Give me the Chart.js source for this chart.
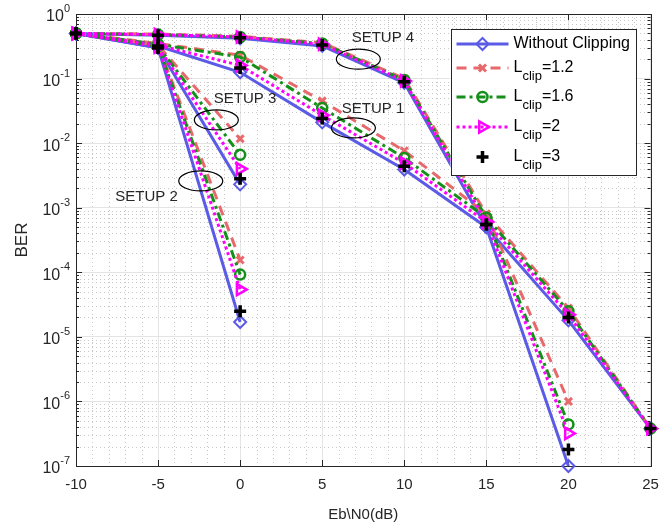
<!DOCTYPE html>
<html><head><meta charset="utf-8">
<script src="https://cdn.jsdelivr.net/npm/chart.js@4/dist/chart.umd.min.js"></script>
<style>html,body{margin:0;padding:0;background:#fff}#wrap{width:660px;height:528px;position:relative}</style>
</head><body><div id="wrap"><canvas id="c" width="660" height="528"></canvas></div>
<script>
// ---------- data ----------
const seriesNames = ['Without Clipping', 'Lclip=1.2', 'Lclip=1.6', 'Lclip=2', 'Lclip=3'];
const legendMain = ['Without Clipping', 'L', 'L', 'L', 'L'];
const legendSub  = ['', 'clip', 'clip', 'clip', 'clip'];
const legendTail = ['', '=1.2', '=1.6', '=2', '=3'];

const xTickValues = [-10, -5, 0, 5, 10, 15, 20, 25];
const yTickValues = [1, 1e-1, 1e-2, 1e-3, 1e-4, 1e-5, 1e-6, 1e-7];
const yTickBase = ['10', '10', '10', '10', '10', '10', '10', '10'];
const yTickExp  = ['0', '-1', '-2', '-3', '-4', '-5', '-6', '-7'];

// SETUP 1
const setup1X = [-10, -5, 0, 5, 10, 15, 20, 25];
const setup1NoClip = [0.5, 0.32, 0.125, 0.021, 0.0039, 5.0e-4, 1.8e-5, 3.8e-7];
const setup1L12    = [0.5, 0.35, 0.23, 0.045, 0.0076, 8.0e-4, 2.8e-5, 3.8e-7];
const setup1L16    = [0.5, 0.34, 0.215, 0.035, 0.0059, 7.0e-4, 2.5e-5, 3.8e-7];
const setup1L2     = [0.5, 0.33, 0.16, 0.027, 0.0049, 6.0e-4, 2.2e-5, 3.8e-7];
const setup1L3     = [0.5, 0.32, 0.146, 0.024, 0.0044, 5.5e-4, 2.0e-5, 3.8e-7];
// SETUP 2
const setup2X = [-10, -5, 0];
const setup2NoClip = [0.5, 0.30, 1.7e-5];
const setup2L12    = [0.5, 0.33, 1.55e-4];
const setup2L16    = [0.5, 0.32, 9.2e-5];
const setup2L2     = [0.5, 0.31, 5.4e-5];
const setup2L3     = [0.5, 0.30, 2.5e-5];
// SETUP 3
const setup3X = [-10, -5, 0];
const setup3NoClip = [0.5, 0.30, 2.3e-3];
const setup3L12    = [0.5, 0.33, 1.17e-2];
const setup3L16    = [0.5, 0.32, 6.6e-3];
const setup3L2     = [0.5, 0.31, 4.0e-3];
const setup3L3     = [0.5, 0.30, 2.8e-3];
// SETUP 4
const setup4X = [-10, -5, 0, 5, 10, 15, 20];
const setup4NoClip = [0.5, 0.47, 0.42, 0.32, 0.086, 5.0e-4, 1.0e-7];
const setup4L12    = [0.5, 0.49, 0.45, 0.36, 0.10, 8.0e-4, 1.0e-6];
const setup4L16    = [0.5, 0.48, 0.44, 0.35, 0.095, 7.0e-4, 4.4e-7];
const setup4L2     = [0.5, 0.48, 0.44, 0.34, 0.092, 6.0e-4, 3.2e-7];
const setup4L3     = [0.5, 0.47, 0.43, 0.33, 0.089, 5.5e-4, 1.8e-7];

const setupLabels = ['SETUP 1', 'SETUP 2', 'SETUP 3', 'SETUP 4'];
const setups = [
  {x: setup1X, ys: [setup1NoClip, setup1L12, setup1L16, setup1L2, setup1L3]},
  {x: setup2X, ys: [setup2NoClip, setup2L12, setup2L16, setup2L2, setup2L3]},
  {x: setup3X, ys: [setup3NoClip, setup3L12, setup3L16, setup3L2, setup3L3]},
  {x: setup4X, ys: [setup4NoClip, setup4L12, setup4L16, setup4L2, setup4L3]}
];
// annotation anchors (data coordinates): text and ellipse
const annotText = [[8.1, 0.034], [-5.7, 1.47e-3], [0.3, 0.048], [8.7, 0.425]];
const annotEllipse = [[6.9, 0.0172], [-2.4, 2.6e-3], [-1.45, 0.0229], [7.2, 0.2]];

// ---------- styles ----------
const styles = [
  {color: '#5b5be6', dash: [], width: 3, point: 'rectRot', radius: 6, rot: 0, pbw: 2, showLine: true, order: 4},
  {color: '#e8696b', dash: [10, 7], width: 3, point: 'crossRot', radius: 5, rot: 0, pbw: 3, showLine: true, order: 3},
  {color: '#14901a', dash: [9, 4, 3, 4], width: 3, point: 'circle', radius: 5, rot: 0, pbw: 2.5, showLine: true, order: 2},
  {color: '#ff00ff', dash: [3, 3], width: 3, point: 'triangle', radius: 6.5, rot: 90, pbw: 2.5, showLine: true, order: 1},
  {color: '#000000', dash: [], width: 0, point: 'cross', radius: 6, rot: 0, pbw: 3.5, showLine: false, order: 0}
];

const datasets = [];
setups.forEach((s, si) => {
  s.ys.forEach((ys, k) => {
    const st = styles[k];
    datasets.push({
      label: seriesNames[k] + ' ' + setupLabels[si],
      data: s.x.map((x, i) => ({x: x, y: ys[i]})),
      borderColor: st.color,
      backgroundColor: 'rgba(255,255,255,0)',
      borderWidth: st.width,
      borderDash: st.dash,
      showLine: st.showLine,
      pointStyle: st.point,
      pointRadius: st.radius,
      pointRotation: st.rot,
      pointBorderWidth: st.pbw,
      pointBorderColor: st.color,
      pointBackgroundColor: 'rgba(255,255,255,0)',
      order: st.order,
      clip: false,
      tension: 0
    });
  });
});

const AX = '#262626';
const FONT = "'Liberation Sans', Arial, sans-serif";

const decorPlugin = {
  id: 'decor',
  beforeDatasetsDraw(chart) {
    const {ctx, chartArea: a, scales: {x, y}} = chart;
    ctx.save();
    // minor grid (dotted)
    ctx.strokeStyle = '#c8c8c8';
    ctx.lineWidth = 1;
    ctx.setLineDash([1, 3]);
    for (let v = -10; v <= 25; v++) {
      if (v % 5 === 0) continue;
      const px = Math.round(x.getPixelForValue(v)) + 0.5;
      ctx.beginPath(); ctx.moveTo(px, a.top); ctx.lineTo(px, a.bottom); ctx.stroke();
    }
    for (let e = -7; e < 0; e++) {
      for (let m = 2; m <= 9; m++) {
        const py = Math.round(y.getPixelForValue(m * Math.pow(10, e))) + 0.5;
        ctx.beginPath(); ctx.moveTo(a.left, py); ctx.lineTo(a.right, py); ctx.stroke();
      }
    }
    ctx.setLineDash([]);
    // frame
    ctx.strokeStyle = AX;
    ctx.lineWidth = 1;
    ctx.strokeRect(Math.round(a.left) + 0.5, Math.round(a.top) + 0.5, Math.round(a.right - a.left), Math.round(a.bottom - a.top));
    // ticks inside
    ctx.beginPath();
    xTickValues.forEach(v => {
      const px = Math.round(x.getPixelForValue(v)) + 0.5;
      ctx.moveTo(px, a.bottom); ctx.lineTo(px, a.bottom - 6);
      ctx.moveTo(px, a.top); ctx.lineTo(px, a.top + 6);
    });
    for (let e = -7; e <= 0; e++) {
      for (let m = 1; m <= 9; m++) {
        if (e === 0 && m > 1) break;
        const py = Math.round(y.getPixelForValue(m * Math.pow(10, e))) + 0.5;
        const len = m === 1 ? 6 : 3;
        ctx.moveTo(a.left, py); ctx.lineTo(a.left + len, py);
        ctx.moveTo(a.right, py); ctx.lineTo(a.right - len, py);
      }
    }
    ctx.stroke();
    // y tick labels with real superscripts
    ctx.fillStyle = AX;
    ctx.textBaseline = 'middle';
    yTickValues.forEach((v, i) => {
      const py = y.getPixelForValue(v);
      ctx.font = '11px ' + FONT;
      const ew = ctx.measureText(yTickExp[i]).width;
      const ex = a.left - 6 - ew;
      ctx.textAlign = 'left';
      ctx.fillText(yTickExp[i], ex, py - 5);
      ctx.font = '16px ' + FONT;
      ctx.textAlign = 'right';
      ctx.fillText(yTickBase[i], ex, py + 3);
    });
    ctx.restore();
  },
  afterDatasetsDraw(chart) {
    const {ctx, scales: {x, y}} = chart;
    ctx.save();
    // annotations
    ctx.fillStyle = AX;
    ctx.font = '15px ' + FONT;
    ctx.textAlign = 'center';
    ctx.textBaseline = 'middle';
    annotText.forEach((p, i) => {
      ctx.fillText(setupLabels[i], x.getPixelForValue(p[0]), y.getPixelForValue(p[1]));
    });
    ctx.strokeStyle = '#000';
    ctx.lineWidth = 1.2;
    annotEllipse.forEach(p => {
      ctx.beginPath();
      ctx.ellipse(x.getPixelForValue(p[0]), y.getPixelForValue(p[1]), 22, 10, 0, 0, Math.PI * 2);
      ctx.stroke();
    });
    ctx.restore();
  },
  afterDraw(chart) {
    const {ctx, chartArea: a} = chart;
    ctx.save();
    const bx = a.right - 200, by = a.top + 15, bw = 185, bh = 146;
    ctx.fillStyle = '#fff';
    ctx.fillRect(bx, by, bw, bh);
    ctx.strokeStyle = AX;
    ctx.lineWidth = 1;
    ctx.strokeRect(Math.round(bx) + 0.5, Math.round(by) + 0.5, bw, bh);
    const rows = [15, 39, 68, 98, 128];
    styles.forEach((st, k) => {
      const yy = by + rows[k];
      const x0 = bx + 6, x1 = bx + 58, xm = (x0 + x1) / 2;
      if (st.showLine) {
        ctx.strokeStyle = st.color;
        ctx.lineWidth = st.width;
        ctx.setLineDash(st.dash);
        ctx.beginPath(); ctx.moveTo(x0, yy); ctx.lineTo(x1, yy); ctx.stroke();
        ctx.setLineDash([]);
      }
      ctx.strokeStyle = st.color;
      ctx.fillStyle = 'rgba(255,255,255,0)';
      ctx.lineWidth = st.pbw;
      Chart.helpers.drawPoint(ctx, {pointStyle: st.point, radius: st.radius, rotation: st.rot, borderWidth: st.pbw}, xm, yy);
      // text
      ctx.fillStyle = '#000';
      ctx.textAlign = 'left';
      ctx.textBaseline = 'middle';
      let tx = bx + 63;
      ctx.font = '16px ' + FONT;
      ctx.fillText(legendMain[k], tx, yy);
      tx += ctx.measureText(legendMain[k]).width;
      if (legendSub[k]) {
        ctx.font = '13px ' + FONT;
        ctx.fillText(legendSub[k], tx, yy + 8);
        tx += ctx.measureText(legendSub[k]).width;
        ctx.font = '16px ' + FONT;
        ctx.fillText(legendTail[k], tx, yy);
      }
    });
    ctx.restore();
  }
};

new Chart(document.getElementById('c'), {
  type: 'line',
  data: {datasets: datasets},
  options: {
    responsive: false,
    animation: false,
    devicePixelRatio: 1,
    layout: {padding: {top: 14, right: 0, left: 0, bottom: 0}},
    plugins: {legend: {display: false}, tooltip: {enabled: false}},
    scales: {
      x: {
        type: 'linear', min: -10, max: 25,
        afterBuildTicks: s => { s.ticks = xTickValues.map(v => ({value: v})); },
        afterFit: s => { s.height = 62; s.paddingRight = 9; s.paddingLeft = 0; },
        grid: {color: '#e4e4e4', lineWidth: 1, drawTicks: false},
        border: {display: false},
        ticks: {color: AX, font: {family: FONT, size: 15}, padding: 10, maxRotation: 0},
        title: {display: true, text: 'Eb\\N0(dB)', color: AX, font: {family: FONT, size: 15}, padding: {top: 0, bottom: 4}}
      },
      y: {
        type: 'logarithmic', min: 1e-7, max: 1,
        afterBuildTicks: s => { s.ticks = yTickValues.map(v => ({value: v})); },
        afterFit: s => { s.width = 76; },
        grid: {color: '#e4e4e4', lineWidth: 1, drawTicks: false},
        border: {display: false},
        ticks: {display: false},
        title: {display: true, text: 'BER', color: AX, font: {family: FONT, size: 17}, padding: {top: 12, bottom: 0}}
      }
    }
  },
  plugins: [decorPlugin]
});
</script>
</body></html>
